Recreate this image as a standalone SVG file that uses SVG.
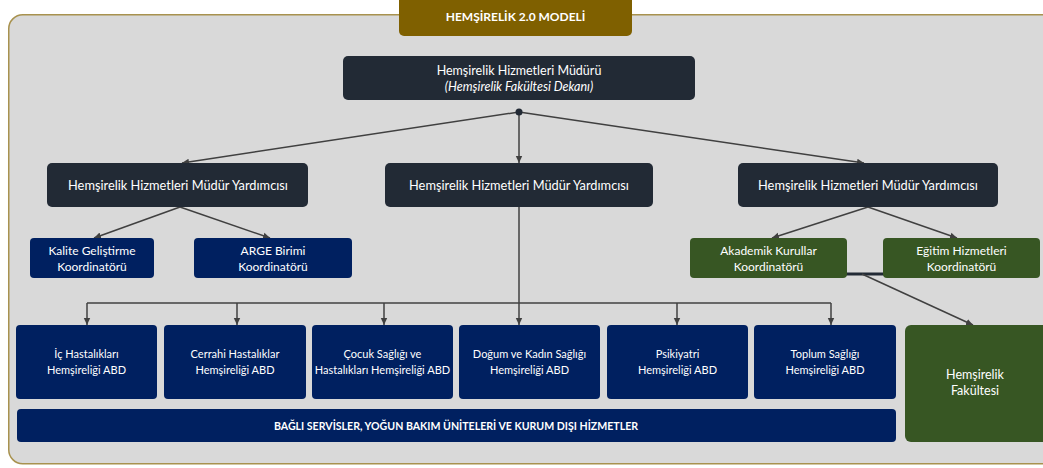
<svg xmlns="http://www.w3.org/2000/svg" width="1043" height="468" viewBox="0 0 1043 468">
<defs>
<marker id="arr" markerUnits="userSpaceOnUse" markerWidth="8" markerHeight="8" viewBox="0 0 8 8" refX="7" refY="4" orient="auto">
<path d="M0,0.8 L7,4 L0,7.2 Z" fill="#404040"/>
</marker>
<style>
.t{font-family:Lato,"Liberation Sans",sans-serif;fill:#ffffff;text-anchor:middle}
.dk{fill:#222a35}
.nv{fill:#002060}
.gr{fill:#375623}
.c{fill:none;stroke:#404040;stroke-width:1.5}
.m{font-size:12.8px}
.s{font-size:12px}
.a{font-size:11px}
</style>
</defs>
<rect x="8.75" y="14.75" width="1050" height="449" rx="14" fill="#d9d9d9" stroke="#a8924f" stroke-width="1.5"/>
<g id="title">
<rect x="399" y="-6" width="233" height="42" rx="5" fill="#7f6000"/>
<text class="t" x="515.5" y="21" font-size="12" font-weight="bold">HEMŞİRELİK 2.0 MODELİ</text>
</g>
<g id="connectors">
<path class="c" d="M519,112 L182,163" marker-end="url(#arr)"/>
<path class="c" d="M519,112 L519,163" marker-end="url(#arr)"/>
<path class="c" d="M519,112 L864,163" marker-end="url(#arr)"/>
<circle cx="519" cy="112" r="3.5" fill="#222a35"/>
<path class="c" d="M180,207 L94,238" marker-end="url(#arr)"/>
<path class="c" d="M180,207 L270,238" marker-end="url(#arr)"/>
<path class="c" d="M868,207 L772,238" marker-end="url(#arr)"/>
<path class="c" d="M868,207 L957,238" marker-end="url(#arr)"/>
<path class="c" d="M519,207 L519,325" marker-end="url(#arr)"/>
<path class="c" d="M87,303 L831,303"/>
<path class="c" d="M87,303 L87,325" marker-end="url(#arr)"/>
<path class="c" d="M237,303 L237,325" marker-end="url(#arr)"/>
<path class="c" d="M384,303 L384,325" marker-end="url(#arr)"/>
<path class="c" d="M677,303 L677,325" marker-end="url(#arr)"/>
<path class="c" d="M831,303 L831,325" marker-end="url(#arr)"/>
<path d="M846,274 L884,274" stroke="#222a35" stroke-width="3" fill="none"/>
<path class="c" d="M862,274 L973,325" marker-end="url(#arr)"/>
</g>
<g id="mudur">
<rect class="dk" x="343" y="56" width="352" height="44" rx="5"/>
<text class="t" x="519" y="75" font-size="12.5">Hemşirelik Hizmetleri Müdürü</text>
<text class="t" x="519" y="91" font-size="12.5" font-style="italic">(Hemşirelik Fakültesi Dekanı)</text>
</g>
<g id="yard1">
<rect class="dk" x="47" y="163" width="261" height="44" rx="5"/>
<text class="t m" x="178" y="189.5">Hemşirelik Hizmetleri Müdür Yardımcısı</text>
</g>
<g id="yard2">
<rect class="dk" x="385" y="163" width="268" height="44" rx="5"/>
<text class="t m" x="519" y="189.5">Hemşirelik Hizmetleri Müdür Yardımcısı</text>
</g>
<g id="yard3">
<rect class="dk" x="738" y="163" width="260" height="44" rx="5"/>
<text class="t m" x="868" y="189.5">Hemşirelik Hizmetleri Müdür Yardımcısı</text>
</g>
<g id="kalite">
<rect class="nv" x="30" y="238" width="124" height="40" rx="4"/>
<text class="t s" x="92" y="255">Kalite Geliştirme</text>
<text class="t s" x="92" y="271">Koordinatörü</text>
</g>
<g id="arge">
<rect class="nv" x="194" y="238" width="158" height="40" rx="4"/>
<text class="t s" x="273" y="255">ARGE Birimi</text>
<text class="t s" x="273" y="271">Koordinatörü</text>
</g>
<g id="akademik">
<rect class="gr" x="690" y="238" width="157" height="40" rx="4"/>
<text class="t s" x="768.5" y="255">Akademik Kurullar</text>
<text class="t s" x="768.5" y="271">Koordinatörü</text>
</g>
<g id="egitim">
<rect class="gr" x="883" y="238" width="157" height="40" rx="4"/>
<text class="t s" x="961.5" y="255">Eğitim Hizmetleri</text>
<text class="t s" x="961.5" y="271">Koordinatörü</text>
</g>
<g id="abd1">
<rect class="nv" x="16" y="325" width="141" height="74" rx="4"/>
<text class="t a" x="86.5" y="358">İç Hastalıkları</text>
<text class="t a" x="86.5" y="374">Hemşireliği ABD</text>
</g>
<g id="abd2">
<rect class="nv" x="164" y="325" width="142" height="74" rx="4"/>
<text class="t a" x="235" y="358">Cerrahi Hastalıklar</text>
<text class="t a" x="235" y="374">Hemşireliği ABD</text>
</g>
<g id="abd3">
<rect class="nv" x="312" y="325" width="141" height="74" rx="4"/>
<text class="t a" x="382.5" y="358">Çocuk Sağlığı ve</text>
<text class="t a" x="382.5" y="374">Hastalıkları Hemşireliği ABD</text>
</g>
<g id="abd4">
<rect class="nv" x="459" y="325" width="141" height="74" rx="4"/>
<text class="t a" x="529.5" y="358">Doğum ve Kadın Sağlığı</text>
<text class="t a" x="529.5" y="374">Hemşireliği ABD</text>
</g>
<g id="abd5">
<rect class="nv" x="607" y="325" width="141" height="74" rx="4"/>
<text class="t a" x="677.5" y="358">Psikiyatri</text>
<text class="t a" x="677.5" y="374">Hemşireliği ABD</text>
</g>
<g id="abd6">
<rect class="nv" x="754" y="325" width="142" height="74" rx="4"/>
<text class="t a" x="825" y="358">Toplum Sağlığı</text>
<text class="t a" x="825" y="374">Hemşireliği ABD</text>
</g>
<g id="servisler">
<rect class="nv" x="17" y="409" width="879" height="33" rx="4"/>
<text class="t" x="456" y="429.5" font-size="10.6" font-weight="bold">BAĞLI SERVİSLER, YOĞUN BAKIM ÜNİTELERİ VE KURUM DIŞI HİZMETLER</text>
</g>
<g id="fakulte">
<rect class="gr" x="905" y="325" width="145" height="117" rx="6"/>
<text class="t" x="975" y="379" font-size="12.5">Hemşirelik</text>
<text class="t" x="975" y="395" font-size="12.5">Fakültesi</text>
</g>
</svg>
